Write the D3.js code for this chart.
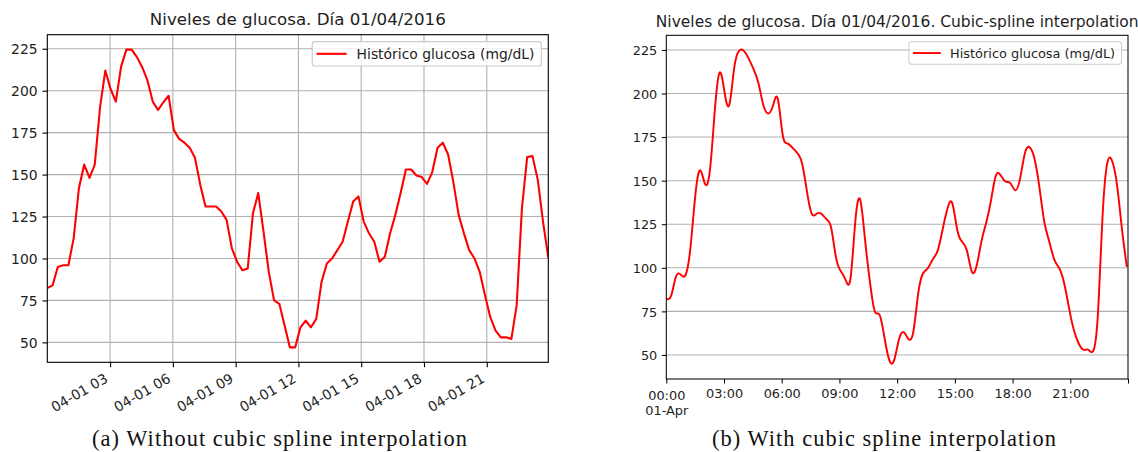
<!doctype html>
<html lang="es">
<head>
  <meta charset="utf-8">
  <title>Niveles de glucosa. Día 01/04/2016</title>
  <script src="https://d3js.org/d3.v7.min.js"></script>
  <style>
  body {
    margin: 0;
    background: #fff;
  }
  svg text {
    font-family: "DejaVu Sans", sans-serif;
    fill: #1e1e1e;
  }
  svg text.caption {
    font-family: "Liberation Serif", serif;
    fill: #111;
  }
  </style>
</head>
<body>
<svg id="chart" width="1138" height="452"></svg>

<script>
// glucose readings (mg/dL), one every ~15 min during 01/04/2016
var glucosa = [82.4, 84, 95, 96, 96, 112, 142, 156, 148, 156,
  190, 212, 201, 193.5, 214.5, 224.5, 224.5, 220, 214, 206,
  193.5, 188.5, 193, 197, 176.5, 171.3, 169, 166, 160, 144,
  131, 131, 131, 128, 123, 106, 98, 93, 94, 127,
  139, 116, 92, 75, 73, 60, 47, 47, 59, 63,
  59, 64, 86, 97, 100, 105, 110, 122, 134, 137,
  122, 115, 110, 98, 101, 115, 126, 139, 153, 153,
  149.5, 148.5, 144.5, 151.5, 166, 169, 162, 145.5, 126, 115,
  105, 100, 92, 78, 65, 57, 53, 53, 52, 72,
  130, 160.5, 161, 147, 122, 100.5];

var startTime = new Date(2016, 3, 1, 0, 0);
var stepMinutes = 15.12;   // sensor sampling interval

var yTicks = [50, 75, 100, 125, 150, 175, 200, 225];
var leftTickHours = [3, 6, 9, 12, 15, 18, 21];
var rightTickHours = [0, 3, 6, 9, 12, 15, 18, 21, 24];
var splineYDomain = [36.2, 233.4];   // y limits of the interpolated plot

var legendLabel = "Histórico glucosa (mg/dL)";
var titleA = "Niveles de glucosa. Día 01/04/2016";
var titleB = "Niveles de glucosa. Día 01/04/2016. Cubic-spline interpolation";
var captionA = "(a) Without cubic spline interpolation";
var captionB = "(b) With cubic spline interpolation";

var tiempos = glucosa.map(function(v, i) {
  return new Date(startTime.getTime() + i * stepMinutes * 60000);
});
function atHour(h) { return new Date(startTime.getTime() + h * 3600000); }

var svg = d3.select("#chart");
var defs = svg.append("defs");

function drawPanel(p) {
  var fs = p.fontSize;
  var u = fs / 10;   // px per point
  var g = svg.append("g");

  var x = d3.scaleTime().domain(p.xDomain).range([p.left, p.right]);
  var y = d3.scaleLinear().domain(p.yDomain).range([p.bottom, p.top]);

  defs.append("clipPath").attr("id", "clip-" + p.id)
    .append("rect")
    .attr("x", p.left).attr("y", p.top)
    .attr("width", p.right - p.left).attr("height", p.bottom - p.top);

  // grid
  g.append("g").selectAll("line").data(yTicks).join("line")
    .attr("x1", p.left).attr("x2", p.right)
    .attr("y1", function(d) { return y(d); })
    .attr("y2", function(d) { return y(d); })
    .attr("stroke", "#b0b0b0").attr("stroke-width", 0.8 * u);
  if (p.vGrid) {
    g.append("g").selectAll("line").data(p.xTicks).join("line")
      .attr("x1", function(d) { return x(d); })
      .attr("x2", function(d) { return x(d); })
      .attr("y1", p.top).attr("y2", p.bottom)
      .attr("stroke", "#b0b0b0").attr("stroke-width", 0.8 * u);
  }

  // glucose line
  var line = d3.line()
    .x(function(d, i) { return x(tiempos[i]); })
    .y(function(d) { return y(d); })
    .curve(p.curve);
  g.append("path").datum(glucosa)
    .attr("clip-path", "url(#clip-" + p.id + ")")
    .attr("d", line)
    .attr("fill", "none")
    .attr("stroke", "#ff0000")
    .attr("stroke-width", 1.5 * u)
    .attr("stroke-linejoin", "round");

  // frame
  g.append("rect")
    .attr("x", p.left).attr("y", p.top)
    .attr("width", p.right - p.left).attr("height", p.bottom - p.top)
    .attr("fill", "none").attr("stroke", "#000").attr("stroke-width", 0.8 * u);

  // y axis
  var yAxis = g.append("g")
    .attr("transform", "translate(" + p.left + ",0)")
    .call(d3.axisLeft(y).tickValues(yTicks).tickSize(3.5 * u).tickPadding(3.5 * u));
  yAxis.select(".domain").remove();
  yAxis.attr("font-size", fs).attr("font-family", null).attr("color", "#000");
  yAxis.selectAll("line").attr("stroke-width", 0.8 * u);
  yAxis.selectAll("text").attr("dy", "0.36em");

  // x axis
  var xAxis = g.append("g")
    .attr("transform", "translate(0," + p.bottom + ")")
    .call(d3.axisBottom(x).tickValues(p.xTicks).tickFormat(p.tickFormat)
      .tickSize(3.5 * u).tickPadding(3.5 * u));
  xAxis.select(".domain").remove();
  xAxis.attr("font-size", fs).attr("font-family", null).attr("color", "#000");
  xAxis.selectAll("line").attr("stroke-width", 0.8 * u);
  p.styleXLabels(xAxis.selectAll("text"), fs, u);

  // title
  g.append("text")
    .attr("x", (p.left + p.right) / 2)
    .attr("y", p.top - 6 * u - 1)
    .attr("text-anchor", "middle")
    .attr("font-size", 1.2 * fs)
    .text(p.title);

  // legend (upper right)
  var leg = g.append("g");
  var legBox = leg.append("rect");
  var legText = leg.append("text").attr("font-size", fs).text(legendLabel);
  var tw = legText.node().getComputedTextLength();
  var padL = 0.31 * fs, handle = 2.16 * fs, gap = 0.72 * fs, padR = 0.5 * fs;
  var lw = padL + handle + gap + tw + padR, lh = 1.75 * fs;
  var lx = p.right - 0.5 * fs - lw, ly = p.top + 0.5 * fs;
  legBox.attr("x", lx).attr("y", ly).attr("width", lw).attr("height", lh)
    .attr("rx", 0.2 * fs)
    .attr("fill", "#fff").attr("fill-opacity", 0.8)
    .attr("stroke", "#cccccc").attr("stroke-width", 0.8 * u);
  leg.append("line")
    .attr("x1", lx + padL).attr("x2", lx + padL + handle)
    .attr("y1", ly + lh / 2).attr("y2", ly + lh / 2)
    .attr("stroke", "#ff0000").attr("stroke-width", 1.5 * u);
  legText.attr("x", lx + padL + handle + gap).attr("y", ly + lh / 2).attr("dy", "0.36em");

  // caption under the panel
  svg.append("text")
    .attr("class", "caption")
    .attr("x", p.captionX).attr("y", 446)
    .attr("text-anchor", "middle")
    .attr("font-size", 22.4)
    .attr("textLength", p.captionW).attr("lengthAdjust", "spacing")
    .text(p.caption);
}

// (a) raw readings
drawPanel({
  id: "a",
  left: 47.3, right: 548.3, top: 34.7, bottom: 362.3,
  fontSize: 13.9,
  xDomain: [startTime, tiempos[tiempos.length - 1]],
  yDomain: (function() {
    var e = d3.extent(glucosa), m = (e[1] - e[0]) * 0.05;
    return [e[0] - m, e[1] + m];
  })(),
  xTicks: leftTickHours.map(atHour),
  tickFormat: d3.timeFormat("%m-%d %H"),
  vGrid: true,
  curve: d3.curveLinear,
  title: titleA,
  caption: captionA, captionX: 279.5, captionW: 375,
  styleXLabels: function(sel, fs, u) {
    sel.attr("text-anchor", "end")
      .attr("y", 0).attr("dy", 0)
      .attr("transform", "translate(" + (-0.12 * fs) + "," + (7 * u + 0.66 * fs) + ") rotate(-30)");
  }
});

// (b) cubic-spline interpolated
drawPanel({
  id: "b",
  left: 666.3, right: 1128, top: 35.3, bottom: 379,
  fontSize: 12.9,
  xDomain: [startTime, atHour(24)],
  yDomain: splineYDomain,
  xTicks: rightTickHours.map(atHour),
  tickFormat: function(d) { return d.getDate() === 2 ? "" : d3.timeFormat("%H:%M")(d); },
  vGrid: false,
  curve: d3.curveNatural,
  title: titleB,
  caption: captionB, captionX: 884, captionW: 344,
  styleXLabels: function(sel, fs, u) {
    sel.attr("dy", "0.71em").attr("y", 7 * u + 0.5);
    sel.filter(function(d) { return d.getHours() === 0 && d.getDate() === 1; })
      .each(function(d) {
        var t = d3.select(this);
        t.attr("y", 7 * u + 3);
        t.text(null);
        t.append("tspan").attr("x", 0).attr("dy", "0.71em").text(d3.timeFormat("%H:%M")(d));
        t.append("tspan").attr("x", 0).attr("dy", "1.17em").text(d3.timeFormat("%d-%b")(d));
      });
  }
});
</script>
</body>
</html>
